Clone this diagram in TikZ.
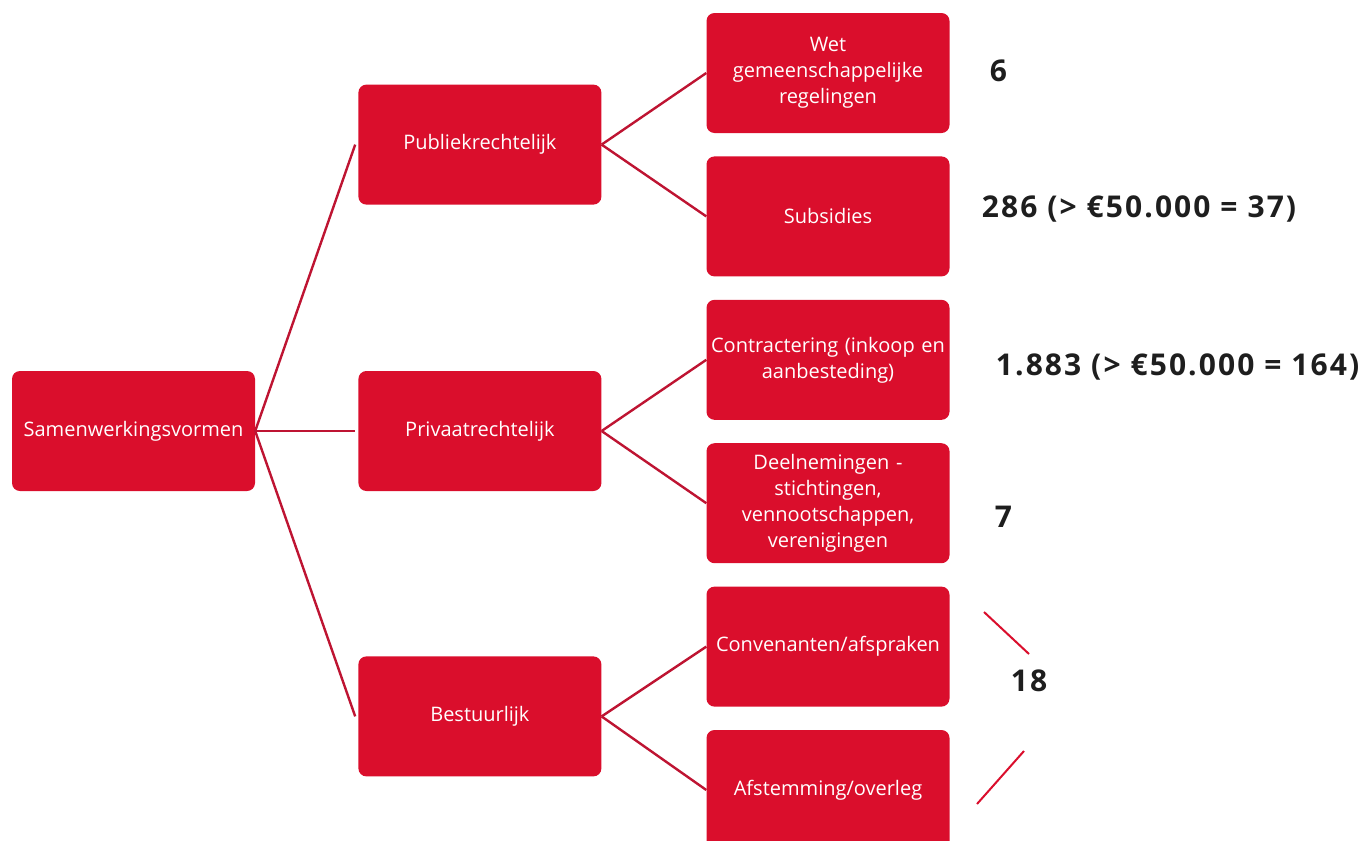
\documentclass[tikz,border=0pt]{standalone}
\usepackage{fontspec}
\setmainfont{Open Sans}
\newfontfamily\numfont[LetterSpace=7]{Open Sans}
\usetikzlibrary{positioning}
\definecolor{cRed}{RGB}{218,14,44}
\definecolor{cLine}{RGB}{190,20,50}
\definecolor{cNum}{RGB}{30,30,30}
\tikzset{
  box/.style={fill=cRed, rounded corners=8pt, align=center, minimum width=243pt, minimum height=120pt, text width=242pt, inner sep=0pt, text=white, font=\fontsize{20}{26}\selectfont},
  lnk/.style={draw=cLine, line width=2.4pt},
  num/.style={inner sep=0pt, text=cNum, font=\numfont\fontsize{30}{34}\selectfont\bfseries},
  brk/.style={draw=cRed, line width=2pt}
}
\begin{document}
\begin{tikzpicture}[x=1pt, y=-1pt]
  \clip (0,0) rectangle (1358,841);
  \node[box] (root) at (133.5,431) {Samenwerkingsvormen};
  \node[box, right=103pt of root] (priv) {Privaatrechtelijk};
  \node[box, above=166pt of priv] (publ) {Publiekrechtelijk};
  \node[box, below=165pt of priv] (best) {Bestuurlijk};
  \node[box] (wet) at (828,73) {Wet\\gemeenschappelijke\\regelingen};
  \node[box, below=23pt of wet] (subs) {Subsidies};
  \node[box, below=23pt of subs] (contr) {Contractering (inkoop en\\aanbesteding)};
  \node[box, below=23pt of contr] (deel) {Deelnemingen -\\stichtingen,\\vennootschappen,\\verenigingen};
  \node[box, below=23pt of deel] (conv) {Convenanten/afspraken};
  \node[box, below=23pt of conv] (afst) {Afstemming/overleg};
  \foreach \n in {publ,priv,best}
    \draw[lnk] (root.east) -- ([xshift=-3pt]\n.west);
  \foreach \a/\b in {publ/wet,publ/subs,priv/contr,priv/deel,best/conv,best/afst}
    \draw[lnk] (\a.east) -- (\b.west);
  % aantallen
  \node[num, right=40pt of wet, yshift=2pt] (nWet) {6};
  \node[num, right=32pt of subs, yshift=7pt] (nSubs) {286 (> €50.000 = 37)};
  \node[num, right=46pt of contr, yshift=-7pt] (nContr) {1.883 (> €50.000 = 164)};
  \node[num, right=45pt of deel, yshift=-14pt] (nDeel) {7};
  \node[num, right=61pt of conv, yshift=-34pt] (nConv) {18};
  \coordinate (k1) at (984,612); \coordinate (k2) at (1029,654);
  \coordinate (k3) at (1024,751); \coordinate (k4) at (977,804);
  \draw[brk] (k1) -- (k2);
  \draw[brk] (k3) -- (k4);
\end{tikzpicture}
\end{document}
